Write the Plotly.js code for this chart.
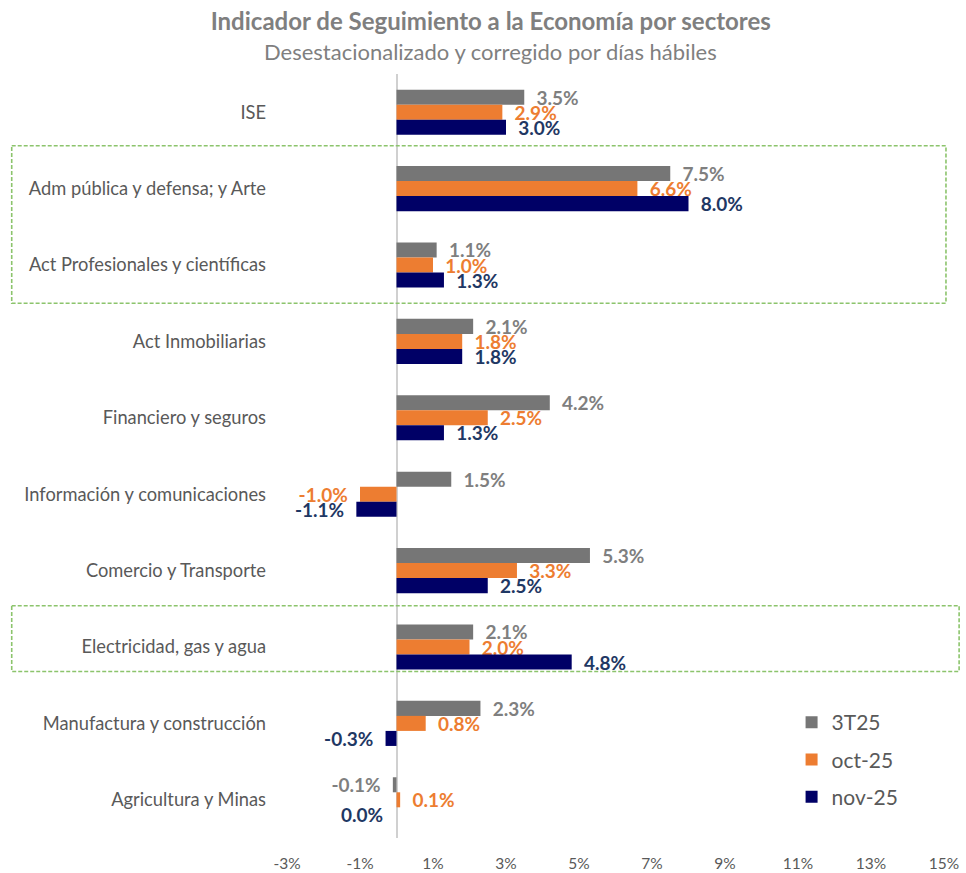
<!DOCTYPE html>
<html>
<head>
<meta charset="utf-8">
<script src="https://cdn.plot.ly/plotly-3.0.1.min.js"></script>
<style>html,body{margin:0;padding:0;background:#fff;}#chart{width:966px;height:873px;}</style>
</head>
<body>
<div id="chart"></div>
<script>
const categories = [
  "ISE",
  "Adm pública y defensa; y Arte",
  "Act Profesionales y científicas",
  "Act Inmobiliarias",
  "Financiero y seguros",
  "Información y comunicaciones",
  "Comercio y Transporte",
  "Electricidad, gas y agua",
  "Manufactura y construcción",
  "Agricultura y Minas"
];
const seriesNames = ["3T25", "oct-25", "nov-25"];
const v3T25  = [3.5, 7.5, 1.1, 2.1, 4.2, 1.5, 5.3, 2.1, 2.3, -0.1];
const vOct25 = [2.9, 6.6, 1.0, 1.8, 2.5, -1.0, 3.3, 2.0, 0.8, 0.1];
const vNov25 = [3.0, 8.0, 1.3, 1.8, 1.3, -1.1, 2.5, 4.8, -0.3, 0.0];
const xTickVals = [-3, -1, 1, 3, 5, 7, 9, 11, 13, 15];
const xTickText = ["-3%", "-1%", "1%", "3%", "5%", "7%", "9%", "11%", "13%", "15%"];

const barColors = ["#767676", "#ED7D31", "#000066"];
const textColors = ["#7F7F7F", "#ED7D31", "#1F3864"];
const allValues = [v3T25, vOct25, vNov25];
const FONT = "Lato, 'Open Sans', sans-serif";
const NB = "\u00a0";

function fmt(v) { return v.toFixed(1) + "%"; }

// bar labels; zero values get their label as an annotation on the left side
const zeroAnnotations = [];
const traces = allValues.map((vals, i) => {
  const texts = vals.map((v, j) => {
    if (v === 0) {
      zeroAnnotations.push({
        x: 0, y: categories[j], xref: "x", yref: "y",
        xanchor: "right", yanchor: "middle",
        xshift: -12, yshift: (1 - i) * 15,
        text: "<b>" + fmt(v) + "</b>", showarrow: false,
        font: {family: FONT, size: 19, color: textColors[i]}
      });
      return "";
    }
    return v > 0 ? NB + NB + fmt(v) : fmt(v) + NB + NB;
  });
  return {
    type: "bar",
    orientation: "h",
    name: seriesNames[i],
    legendgroup: "g" + i,
    y: categories,
    x: vals,
    text: texts,
    marker: {color: barColors[i]},
    textposition: "outside",
    constraintext: "none",
    cliponaxis: false,
    textfont: {family: FONT, size: 19, color: textColors[i], weight: "bold"},
    hoverinfo: "x+y+name"
  };
});

const boxLine = {color: "#8CC46C", width: 1.6, dash: "4px,2px"};

const layout = {
  width: 966,
  height: 873,
  margin: {l: 287, r: 22, t: 74, b: 35},
  paper_bgcolor: "#ffffff",
  plot_bgcolor: "#ffffff",
  barmode: "group",
  bargap: 0.41,
  bargroupgap: 0,
  font: {family: FONT, color: "#595959"},
  title: {
    text: "<b>Indicador de Seguimiento a la Economía por sectores</b>",
    font: {family: FONT, size: 24, color: "#7F7F7F"},
    xref: "container", x: 0.508, xanchor: "center",
    yref: "container", y: 0.985, yanchor: "top"
  },
  annotations: [{
    text: "Desestacionalizado y corregido por días hábiles",
    xref: "paper", yref: "paper",
    x: 0.31, y: 1.030, xanchor: "center", yanchor: "middle",
    showarrow: false,
    font: {family: FONT, size: 22, color: "#7F7F7F"}
  }].concat(zeroAnnotations),
  xaxis: {
    range: [-3, 15],
    tickvals: xTickVals,
    ticktext: xTickText,
    showgrid: false,
    zeroline: true,
    zerolinecolor: "#D0D0D0",
    zerolinewidth: 2,
    showline: false,
    ticks: "",
    ticklabelstandoff: 14,
    tickfont: {family: FONT, size: 15.5, color: "#595959"},
    fixedrange: true
  },
  yaxis: {
    type: "category",
    autorange: "reversed",
    showgrid: false,
    zeroline: false,
    showline: false,
    ticks: "",
    ticklabelstandoff: 20,
    tickfont: {family: FONT, size: 18.3, color: "#595959"},
    fixedrange: true
  },
  showlegend: true,
  legend: {
    x: 0.768, y: 0.178, xanchor: "left", yanchor: "top",
    tracegroupgap: 7,
    itemwidth: 30,
    font: {family: FONT, size: 21, color: "#595959"},
    bgcolor: "rgba(0,0,0,0)"
  },
  shapes: [
    {type: "rect", xref: "paper", yref: "y", x0: -0.419, x1: 1.003, y0: 0.44, y1: 2.5, line: boxLine, fillcolor: "rgba(0,0,0,0)", layer: "above"},
    {type: "rect", xref: "paper", yref: "y", x0: -0.419, x1: 1.023, y0: 6.46, y1: 7.32, line: boxLine, fillcolor: "rgba(0,0,0,0)", layer: "above"}
  ]
};

Plotly.newPlot("chart", traces, layout, {displayModeBar: false, staticPlot: true});
</script>
</body>
</html>
